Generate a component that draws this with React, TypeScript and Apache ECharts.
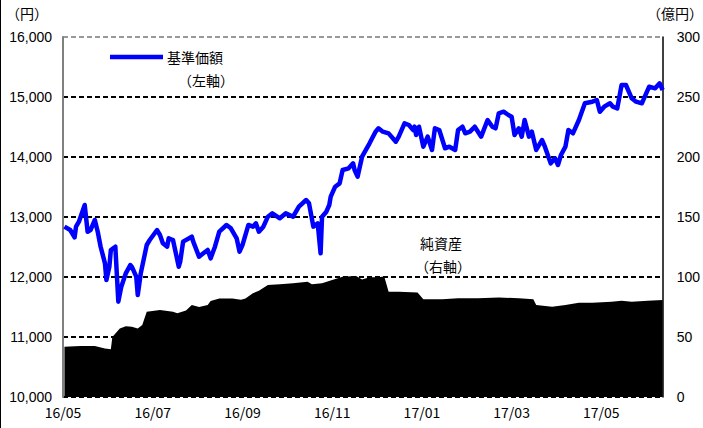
import React, { useEffect, useRef } from "react";
import * as echarts from "echarts";

const xLabels = ["16/05", "16/07", "16/09", "16/11", "17/01", "17/03", "17/05"];

const navDates = [
  "2016-05-02","2016-05-06","2016-05-09","2016-05-10","2016-05-12","2016-05-16","2016-05-17","2016-05-18","2016-05-20","2016-05-23","2016-05-25","2016-05-27","2016-05-30","2016-05-31",
  "2016-06-02","2016-06-03","2016-06-06","2016-06-08","2016-06-10","2016-06-13","2016-06-16","2016-06-17","2016-06-20","2016-06-21","2016-06-23","2016-06-27","2016-06-29",
  "2016-07-04","2016-07-06","2016-07-08","2016-07-11","2016-07-12","2016-07-15","2016-07-19","2016-07-20","2016-07-22","2016-07-28","2016-07-29",
  "2016-08-02","2016-08-05","2016-08-08","2016-08-10","2016-08-13","2016-08-16","2016-08-21","2016-08-24","2016-08-28","2016-08-30",
  "2016-09-01","2016-09-05","2016-09-08","2016-09-10","2016-09-12","2016-09-15","2016-09-18","2016-09-21","2016-09-26","2016-09-30",
  "2016-10-05","2016-10-09","2016-10-14","2016-10-16","2016-10-19","2016-10-22","2016-10-24","2016-10-25","2016-10-28","2016-10-30","2016-10-31",
  "2016-11-03","2016-11-06","2016-11-08","2016-11-12","2016-11-15","2016-11-16","2016-11-18","2016-11-21","2016-11-26","2016-11-30",
  "2016-12-02","2016-12-05","2016-12-09","2016-12-14","2016-12-16","2016-12-20","2016-12-23","2016-12-26","2016-12-27","2016-12-28","2016-12-30",
  "2017-01-02","2017-01-05","2017-01-08","2017-01-10","2017-01-13","2017-01-17","2017-01-20","2017-01-24","2017-01-26","2017-01-29","2017-01-31",
  "2017-02-03","2017-02-06","2017-02-10","2017-02-14","2017-02-17","2017-02-19","2017-02-21","2017-02-24","2017-02-27",
  "2017-03-01","2017-03-03","2017-03-06","2017-03-08","2017-03-10","2017-03-13","2017-03-15","2017-03-18","2017-03-22","2017-03-24","2017-03-28","2017-03-31",
  "2017-04-02","2017-04-04","2017-04-07","2017-04-09","2017-04-12","2017-04-16","2017-04-20","2017-04-25","2017-04-28","2017-04-30",
  "2017-05-03","2017-05-07","2017-05-09","2017-05-12","2017-05-15","2017-05-18","2017-05-22","2017-05-25","2017-05-29",
  "2017-06-01","2017-06-03","2017-06-07","2017-06-10","2017-06-12",
];

const navValues = [
  12840,12783,12661,12839,12922,13200,12978,12755,12783,12950,12755,12505,12228,11950,
  12172,12450,12505,11589,11839,12061,12200,12172,12005,11700,12061,12533,12617,
  12783,12700,12561,12505,12645,12617,12172,12255,12589,12672,12589,
  12339,12395,12450,12311,12505,12755,12867,12811,12645,12422,
  12533,12867,12839,12895,12755,12839,13005,13061,12978,13061,
  13005,13172,13283,13228,12839,12895,12395,13005,13089,13200,13339,
  13505,13561,13783,13811,13894,13783,13672,14005,14228,14422,
  14478,14422,14394,14255,14339,14561,14533,14450,14505,14367,14505,
  14172,14339,14117,14478,14450,14145,14172,14117,14450,14505,14395,
  14422,14505,14339,14617,14505,14478,14728,14755,14700,
  14672,14367,14478,14339,14617,14339,14422,14117,14283,14172,13894,13978,
  13867,14033,14172,14450,14395,14617,14895,14922,14950,14755,
  14839,14895,14839,14811,15200,15200,14978,14922,14895,
  15061,15172,15145,15228,15117,
];

const assetDates = [
  "2016-05-02","2016-05-13","2016-05-23","2016-05-30","2016-06-03","2016-06-04","2016-06-09","2016-06-13","2016-06-17","2016-06-21","2016-06-24","2016-06-27",
  "2016-07-06","2016-07-15","2016-07-18","2016-07-24","2016-07-28","2016-08-02","2016-08-08","2016-08-10","2016-08-16","2016-08-25","2016-08-31",
  "2016-09-03","2016-09-08","2016-09-12","2016-09-18","2016-09-26","2016-10-05","2016-10-15","2016-10-18","2016-10-25","2016-11-01","2016-11-08","2016-11-17",
  "2016-11-21","2016-11-26","2016-12-02","2016-12-06","2016-12-09","2016-12-16","2016-12-29","2017-01-02","2017-01-15","2017-01-26","2017-02-08","2017-02-21",
  "2017-03-06","2017-03-16","2017-03-18","2017-03-29","2017-04-07","2017-04-16","2017-04-25","2017-05-08","2017-05-15","2017-05-22","2017-06-02","2017-06-12",
];

const assetValues = [
  41.9,42.5,42.5,40.5,39.7,50,57,59,58.6,57,60,71,
  72.5,71,69.7,72,76.7,75,76.7,80,82,82,81,
  82,86.4,88.6,93.3,94,94.7,96,94,94.7,97.5,100.3,100.8,
  98,99.7,99.7,100.5,87.8,87.8,87,81.4,81.4,82.2,82.2,83,
  82.2,81.4,76.7,75.3,76.7,78.6,78.6,79.4,80.3,79.4,80.3,80.8,
];

function monthOffset(s: string): number {
  const [y, m, d] = s.split("-").map(Number);
  const days = new Date(y, m, 0).getDate();
  return (y - 2016) * 12 + (m - 5) + (d - 1) / days;
}

const JP = '"Noto Sans CJK JP", sans-serif';
const NUM = '"Liberation Sans", Arial, sans-serif';

export default function App() {
  const ref = useRef<HTMLDivElement>(null);
  useEffect(() => {
    document.body.style.margin = "0";
    if (!ref.current) return;
    const chart = echarts.init(ref.current, null, { renderer: "svg" });
    const navData = navDates.map((d, i) => [monthOffset(d), navValues[i]]);
    const assetData = assetDates.map((d, i) => [monthOffset(d), assetValues[i]]);
    const xMax = monthOffset(navDates[navDates.length - 1]);
    chart.setOption({
      animation: false,
      backgroundColor: "#fff",
      grid: { left: 63, right: 38, top: 37, bottom: 31, containLabel: false },
      xAxis: {
        type: "value",
        min: 0,
        max: xMax,
        interval: 2,
        axisLine: { show: false },
        axisTick: { show: false },
        splitLine: { show: false },
        axisLabel: {
          showMaxLabel: false,
          margin: 8,
          color: "#000",
          fontFamily: JP,
          fontSize: 14,
          formatter: (v: number) => {
            const k = v / 2;
            return Number.isInteger(k) && xLabels[k] ? xLabels[k] : "";
          },
        },
      },
      yAxis: [
        {
          type: "value",
          min: 10000,
          max: 16000,
          interval: 1000,
          axisLine: { show: true, lineStyle: { color: "#808080", width: 2 } },
          axisTick: { show: false },
          axisLabel: {
            color: "#000",
            fontFamily: NUM,
            fontSize: 14,
            margin: 11,
            formatter: (v: number) => v.toLocaleString("en-US"),
          },
          splitLine: {
            show: true,
            lineStyle: {
              color: ["#000", "#000", "#000", "#000", "#000", "#000", "#999"],
              type: [5, 3],
              width: 2,
            },
          },
        },
        {
          type: "value",
          min: 0,
          max: 300,
          interval: 50,
          position: "right",
          axisLine: { show: true, lineStyle: { color: "#000", width: 1.5 } },
          axisTick: { show: false },
          splitLine: { show: false },
          axisLabel: { color: "#000", fontFamily: NUM, fontSize: 14, margin: 14 },
        },
      ],
      series: [
        {
          name: "純資産",
          type: "line",
          yAxisIndex: 1,
          data: assetData,
          symbol: "none",
          lineStyle: { width: 0, color: "#000" },
          areaStyle: { color: "#000", opacity: 1 },
          z: 2,
        },
        {
          name: "基準価額",
          type: "line",
          yAxisIndex: 0,
          data: navData,
          symbol: "none",
          lineStyle: { width: 4.5, color: "#0000ff", join: "round" },
          z: 3,
        },
      ],
      graphic: [
        { type: "line", shape: { x1: 0.5, y1: 0, x2: 0.5, y2: 428 }, style: { stroke: "#000", lineWidth: 1 } },
        { type: "text", left: 6, top: 6, style: { text: "（円）", font: `14px ${JP}`, fill: "#000" } },
        { type: "text", right: 0, top: 6, style: { text: "（億円）", font: `14px ${JP}`, fill: "#000" } },
        { type: "line", shape: { x1: 110, y1: 57, x2: 163, y2: 57 }, style: { stroke: "#0000ff", lineWidth: 4.5 } },
        { type: "text", x: 167, y: 57, style: { text: "基準価額", font: `14px ${JP}`, fill: "#000", verticalAlign: "middle" } },
        { type: "text", x: 206, y: 80, style: { text: "（左軸）", font: `14px ${JP}`, fill: "#000", verticalAlign: "middle", align: "center" } },
        { type: "text", x: 441, y: 243, style: { text: "純資産", font: `14px ${JP}`, fill: "#000", verticalAlign: "middle", align: "center" } },
        { type: "text", x: 443, y: 266, style: { text: "（右軸）", font: `14px ${JP}`, fill: "#000", verticalAlign: "middle", align: "center" } },
      ],
    });
    return () => chart.dispose();
  }, []);
  return <div ref={ref} style={{ width: 703, height: 428 }} />;
}
